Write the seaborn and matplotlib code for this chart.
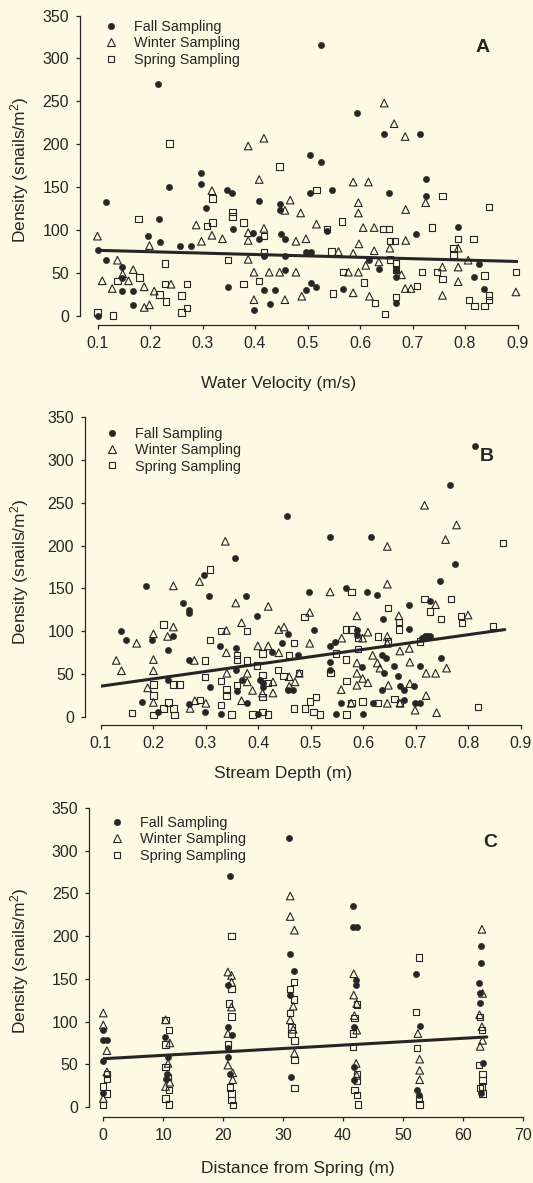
import matplotlib
matplotlib.use("Agg")
import matplotlib.pyplot as plt
import seaborn as sns
from matplotlib.lines import Line2D

# ---------------- data ----------------
# Panel A: Water velocity (m/s) vs density
fall_a = [(0.100,0),(0.100,77),(0.117,133),(0.117,65),(0.147,57),(0.147,44),(0.147,29),(0.168,29),(0.168,13),
          (0.197,93),(0.215,270),(0.217,113),(0.219,86),(0.237,150),(0.258,81),(0.278,81),(0.297,166),(0.297,154),
          (0.306,126),(0.347,147),(0.357,143),(0.358,101),(0.349,34),(0.397,97),(0.407,134),(0.408,90),(0.398,7),
          (0.418,30),(0.428,14),(0.439,30),(0.447,131),(0.447,123),(0.449,95),(0.458,90),(0.458,54),(0.458,70),
          (0.417,70),(0.505,187),(0.525,179),(0.505,143),(0.525,316),(0.498,30),(0.507,38),(0.517,34),(0.497,75),
          (0.506,75),(0.547,147),(0.537,99),(0.567,31),(0.595,236),(0.617,65),(0.637,55),(0.645,212),(0.656,143),
          (0.668,45),(0.668,54),(0.668,15),(0.715,212),(0.707,96),(0.725,160),(0.725,140),(0.786,104),(0.817,45),
          (0.827,60),(0.836,32)]
winter_a = [(0.100,93),(0.109,41),(0.128,32),(0.138,65),(0.148,49),(0.159,41),(0.168,54),(0.189,34),(0.189,10),
            (0.199,13),(0.199,82),(0.208,29),(0.240,37),(0.288,106),(0.298,87),(0.318,146),(0.318,94),(0.338,90),
            (0.387,198),(0.417,207),(0.408,159),(0.387,97),(0.387,88),(0.387,66),(0.398,51),(0.398,19),(0.417,102),
            (0.427,51),(0.447,51),(0.457,19),(0.467,135),(0.457,123),(0.478,87),(0.478,51),(0.487,120),(0.489,23),
            (0.497,90),(0.517,107),(0.559,75),(0.578,51),(0.587,156),(0.587,73),(0.587,27),(0.597,132),(0.597,120),
            (0.598,84),(0.597,51),(0.611,59),(0.606,103),(0.616,156),(0.618,23),(0.627,103),(0.627,76),(0.636,63),
            (0.646,248),(0.657,79),(0.665,224),(0.679,48),(0.686,209),(0.687,124),(0.687,88),(0.686,32),(0.697,32),
            (0.725,132),(0.757,57),(0.757,24),(0.787,79),(0.787,57),(0.787,40),(0.806,65),(0.897,28)]
spring_a = [(0.100,4),(0.129,0.5),(0.138,41),(0.178,113),(0.180,45),(0.218,25),(0.229,61),(0.229,37),(0.230,17),
            (0.237,201),(0.260,24),(0.260,4),(0.270,37),(0.270,9),(0.308,105),(0.319,137),(0.319,109),(0.348,65),
            (0.357,121),(0.357,116),(0.378,109),(0.378,37),(0.408,41),(0.417,93),(0.417,74),(0.447,174),(0.517,147),
            (0.537,101),(0.546,75),(0.548,26),(0.566,110),(0.568,51),(0.608,39),(0.629,15),(0.648,2),(0.644,101),
            (0.655,101),(0.657,87),(0.667,87),(0.657,66),(0.668,61),(0.668,54),(0.668,22),(0.708,35),(0.718,51),
            (0.737,103),(0.757,140),(0.747,51),(0.757,43),(0.778,79),(0.778,71),(0.787,90),(0.816,90),(0.808,19),
            (0.818,12),(0.837,47),(0.837,12),(0.846,24),(0.846,19),(0.846,127),(0.897,51)]
fit_a_x = [0.10, 0.90]
fit_a_y = [76.5, 63.5]

# Panel B: Stream depth (m) vs density
fall_b = [(0.138,100),(0.148,90),(0.186,153),(0.178,18),(0.198,90),(0.208,6),(0.227,78),(0.227,43),(0.238,94),
          (0.257,133),(0.267,125),(0.267,121),(0.267,66),(0.267,15),(0.297,166),(0.306,141),(0.298,6),(0.308,35),
          (0.327,83),(0.329,3),(0.356,185),(0.357,80),(0.357,55),(0.359,30),(0.368,43),(0.377,141),(0.379,16),
          (0.397,118),(0.399,3),(0.403,43),(0.408,40),(0.409,35),(0.427,76),(0.446,86),(0.455,235),(0.457,97),
          (0.457,32),(0.467,31),(0.476,72),(0.497,146),(0.507,102),(0.536,210),(0.537,83),(0.546,88),(0.537,64),
          (0.537,55),(0.548,3),(0.558,16),(0.567,150),(0.588,101),(0.589,96),(0.597,58),(0.599,3),(0.607,146),
          (0.615,210),(0.618,16),(0.626,142),(0.637,114),(0.636,72),(0.639,51),(0.643,69),(0.636,31),(0.658,60),
          (0.666,48),(0.670,36),(0.678,32),(0.678,20),(0.688,131),(0.688,103),(0.696,36),(0.699,16),(0.708,60),
          (0.708,16),(0.712,92),(0.717,94),(0.722,95),(0.728,95),(0.728,135),(0.747,159),(0.749,69),(0.765,271),
          (0.776,179),(0.814,316)]
winter_b = [(0.129,66),(0.139,54),(0.168,86),(0.189,34),(0.200,97),(0.200,67),(0.200,54),(0.200,17),(0.227,94),
            (0.238,153),(0.238,105),(0.270,10),(0.278,66),(0.279,19),(0.288,158),(0.300,16),(0.337,205),(0.339,101),
            (0.339,75),(0.340,51),(0.357,133),(0.368,110),(0.368,19),(0.379,51),(0.379,41),(0.389,31),(0.399,83),
            (0.408,28),(0.419,129),(0.419,83),(0.428,41),(0.428,28),(0.439,102),(0.439,75),(0.449,105),(0.459,47),
            (0.459,36),(0.470,41),(0.498,122),(0.498,86),(0.478,51),(0.537,146),(0.559,92),(0.588,118),(0.599,92),
            (0.609,99),(0.588,63),(0.588,51),(0.588,37),(0.599,45),(0.609,40),(0.558,32),(0.577,16),(0.618,72),
            (0.627,63),(0.632,57),(0.646,199),(0.646,155),(0.646,94),(0.646,86),(0.648,37),(0.646,16),(0.668,118),
            (0.670,77),(0.670,16),(0.688,80),(0.689,64),(0.689,39),(0.699,8),(0.717,247),(0.720,51),(0.720,25),
            (0.738,131),(0.738,51),(0.740,5),(0.757,207),(0.759,57),(0.778,224),(0.800,119)]
spring_b = [(0.159,5),(0.200,2),(0.200,25),(0.200,38),(0.219,108),(0.229,17),(0.219,10),(0.238,10),(0.240,2),
            (0.238,38),(0.250,38),(0.289,20),(0.298,47),(0.298,66),(0.308,172),(0.308,90),(0.329,14),(0.329,100),
            (0.329,42),(0.339,25),(0.339,32),(0.349,3),(0.359,67),(0.359,72),(0.359,37),(0.379,100),(0.379,66),
            (0.389,3),(0.397,60),(0.408,74),(0.408,49),(0.408,23),(0.408,6),(0.419,3),(0.419,40),(0.438,55),
            (0.448,48),(0.459,72),(0.468,86),(0.468,10),(0.478,51),(0.488,117),(0.489,10),(0.498,18),(0.505,6),
            (0.510,23),(0.518,3),(0.538,51),(0.548,74),(0.567,67),(0.567,102),(0.568,42),(0.568,3),(0.578,146),
            (0.578,102),(0.578,16),(0.590,92),(0.590,79),(0.599,18),(0.628,94),(0.628,16),(0.647,127),(0.647,88),
            (0.660,21),(0.668,111),(0.668,102),(0.670,16),(0.717,138),(0.708,88),(0.728,123),(0.748,114),
            (0.767,138),(0.787,118),(0.788,110),(0.819,12),(0.847,106),(0.867,203)]
fit_b_x = [0.10, 0.87]
fit_b_y = [36, 102]

# Panel C: Distance from spring (m) vs density
fall_c = [(-0.1,90),(-0.1,78),(0.6,78),(-0.1,54),(0.0,16),
          (10.3,82),(10.6,39),(10.4,33),(10.8,59),
          (21.1,270),(20.8,143),(20.8,94),(21.4,84),(20.8,59),(20.8,69),(21.1,39),
          (31.0,315),(31.2,179),(31.8,159),(31.2,131),(31.4,35),
          (41.7,235),(41.7,211),(42.3,211),(42.2,149),(42.2,143),(41.9,94),(41.9,47),(41.8,32),
          (52.2,156),(52.8,95),(52.4,20),(52.7,14),
          (63.1,188),(63.1,168),(62.7,145),(62.8,122),(62.9,133),(63.3,51),(63.1,16)]
winter_c = [(0.0,110),(0.0,96),(0.6,66),(0.0,10),(0.6,41),
            (10.4,102),(11.1,75),(10.8,51),(10.4,24),(11.1,29),
            (20.8,158),(21.4,154),(21.4,146),(21.4,117),(20.8,86),(20.8,49),(21.6,40),(21.6,32),
            (31.2,247),(31.2,223),(31.9,207),(31.7,118),(31.2,102),(31.7,91),(31.9,63),
            (41.8,156),(41.8,131),(42.3,121),(41.9,107),(42.3,90),(42.2,51),(42.3,37),
            (52.5,86),(52.8,56),(52.8,43),(52.8,32),
            (63.2,208),(63.3,133),(62.8,108),(63.2,94),(63.3,78),(62.9,71)]
spring_c = [(0.6,39),(0.6,33),(0.0,24),(0.6,16),(0.0,2),
            (10.4,102),(11.0,90),(10.4,73),(10.4,47),(10.8,35),(11.0,20),(10.4,10),(11.0,3),
            (21.4,200),(21.4,138),(21.0,121),(21.4,106),(20.8,73),(21.1,23),(21.4,16),(21.4,8),(21.6,2),
            (31.8,146),(31.2,138),(31.8,126),(31.2,110),(31.4,94),(31.4,86),(31.9,78),(31.9,55),(31.9,22),
            (42.3,120),(41.9,104),(41.7,86),(41.7,70),(42.3,39),(42.3,31),(41.9,20),(42.3,14),(42.5,3),
            (52.7,175),(52.2,111),(52.4,69),(52.7,9),(52.8,3),
            (62.9,105),(63.2,90),(62.7,49),(63.3,39),(63.3,31),(63.2,24),(62.9,22),(63.3,16)]
fit_c_x = [0, 64]
fit_c_y = [56.5, 82]

season_labels = ["Fall Sampling", "Winter Sampling", "Spring Sampling"]
x_labels = ["Water Velocity (m/s)", "Stream Depth (m)", "Distance from Spring (m)"]
panel_letters = ["A", "B", "C"]
y_ticks = [0, 50, 100, 150, 200, 250, 300, 350]
x_ticks_ab = [0.1, 0.2, 0.3, 0.4, 0.5, 0.6, 0.7, 0.8, 0.9]
x_ticks_c = [0, 10, 20, 30, 40, 50, 60, 70]

# ---------------- styling ----------------
sns.set_theme(style="ticks")
plt.rcParams['font.family'] = ['Liberation Sans', 'DejaVu Sans']
plt.rcParams['mathtext.fontset'] = 'custom'
plt.rcParams['mathtext.rm'] = 'Liberation Sans'
plt.rcParams['mathtext.it'] = 'Liberation Sans'
plt.rcParams['mathtext.bf'] = 'Liberation Sans:bold'
plt.rcParams['mathtext.default'] = 'regular'

BG = '#FCFAE3'
INK = '#262626'

W, H = 533, 1183
fig = plt.figure(figsize=(W / 100, H / 100), dpi=100, facecolor=BG)

def rect(x0, x1, y_bottom, y_top):
    return [x0 / W, 1 - y_bottom / H, (x1 - x0) / W, (y_bottom - y_top) / H]

panels = [
    dict(data=(fall_a, winter_a, spring_a), fit=(fit_a_x, fit_a_y), rect=rect(97.5, 517.5, 316, 15.5),
         xlim=(0.1, 0.9), xticks=x_ticks_ab, fmt="{:.1f}", off=(12.6, 6.5),
         leg=(0.015, 0.985), letter=(0.918, 0.895), xlab=(0.43, -0.2), ylab=(-0.159, 0.486)),
    dict(data=(fall_b, winter_b, spring_b), fit=(fit_b_x, fit_b_y), rect=rect(101, 520.5, 717, 417),
         xlim=(0.1, 0.9), xticks=x_ticks_ab, fmt="{:.1f}", off=(11.5, 5.8),
         leg=(0.009, 0.968), letter=(0.92, 0.87), xlab=(0.434, -0.163), ylab=(-0.168, 0.483)),
    dict(data=(fall_c, winter_c, spring_c), fit=(fit_c_x, fit_c_y), rect=rect(103.3, 522.7, 1107, 808),
         xlim=(0, 70), xticks=x_ticks_c, fmt="{:d}", off=(10.0, 7.2),
         leg=(0.0155, 0.974), letter=(0.922, 0.886), xlab=(0.464, -0.18), ylab=(-0.173, 0.49)),
]

marker_styles = [
    dict(marker='o', s=20, color=INK, edgecolor=INK, linewidth=0.4),
    dict(marker='^', s=30, facecolor='none', edgecolor=INK, linewidth=0.8),
    dict(marker='s', s=21, facecolor='none', edgecolor=INK, linewidth=0.8),
]

for i, p in enumerate(panels):
    ax = fig.add_axes(p['rect'])
    ax.set_facecolor(BG)
    for series, style in zip(p['data'], marker_styles):
        xs = [v[0] for v in series]
        ys = [v[1] for v in series]
        sns.scatterplot(x=xs, y=ys, ax=ax, clip_on=False, zorder=3, legend=False, **style)
    sns.lineplot(x=p['fit'][0], y=p['fit'][1], ax=ax, color=INK, linewidth=2.2, zorder=4)

    ax.set_xlim(*p['xlim'])
    ax.set_ylim(0, 350)
    ax.set_xticks(p['xticks'])
    ax.set_xticklabels([p['fmt'].format(t) for t in p['xticks']])
    ax.set_yticks(y_ticks)
    sns.despine(ax=ax)
    ax.spines['left'].set_position(('outward', p['off'][0]))
    ax.spines['bottom'].set_position(('outward', p['off'][1]))
    ax.spines['left'].set_bounds(0, 350)
    ax.spines['bottom'].set_bounds(*p['xlim'])
    for s in ('left', 'bottom'):
        ax.spines[s].set_color(INK)
        ax.spines[s].set_linewidth(0.9)
    ax.tick_params(direction='out', length=3, width=0.9, colors=INK, labelsize=11.5, pad=5)

    ax.set_xlabel(x_labels[i], fontsize=12.5, color=INK)
    ax.set_ylabel('Density (snails/m$^{2}$)', fontsize=12.5, color=INK)
    ax.xaxis.set_label_coords(*p['xlab'])
    ax.yaxis.set_label_coords(*p['ylab'])

    ax.text(*p['letter'], panel_letters[i], transform=ax.transAxes, fontsize=14,
            fontweight='bold', color=INK, ha='center', va='center')

    handles = [
        Line2D([], [], ls='none', marker='o', markersize=4.6, mfc=INK, mec=INK, mew=0.4),
        Line2D([], [], ls='none', marker='^', markersize=5.8, mfc='none', mec=INK, mew=0.8),
        Line2D([], [], ls='none', marker='s', markersize=4.6, mfc='none', mec=INK, mew=0.8),
    ]
    leg = ax.legend(handles, season_labels, loc='upper left', bbox_to_anchor=p['leg'],
                    frameon=False, fontsize=10.4, handlelength=1.0, handletextpad=1.1,
                    labelspacing=0.17, borderaxespad=0, borderpad=0)
    for t in leg.get_texts():
        t.set_color(INK)

fig.savefig('out.png', dpi=100, facecolor=BG)
